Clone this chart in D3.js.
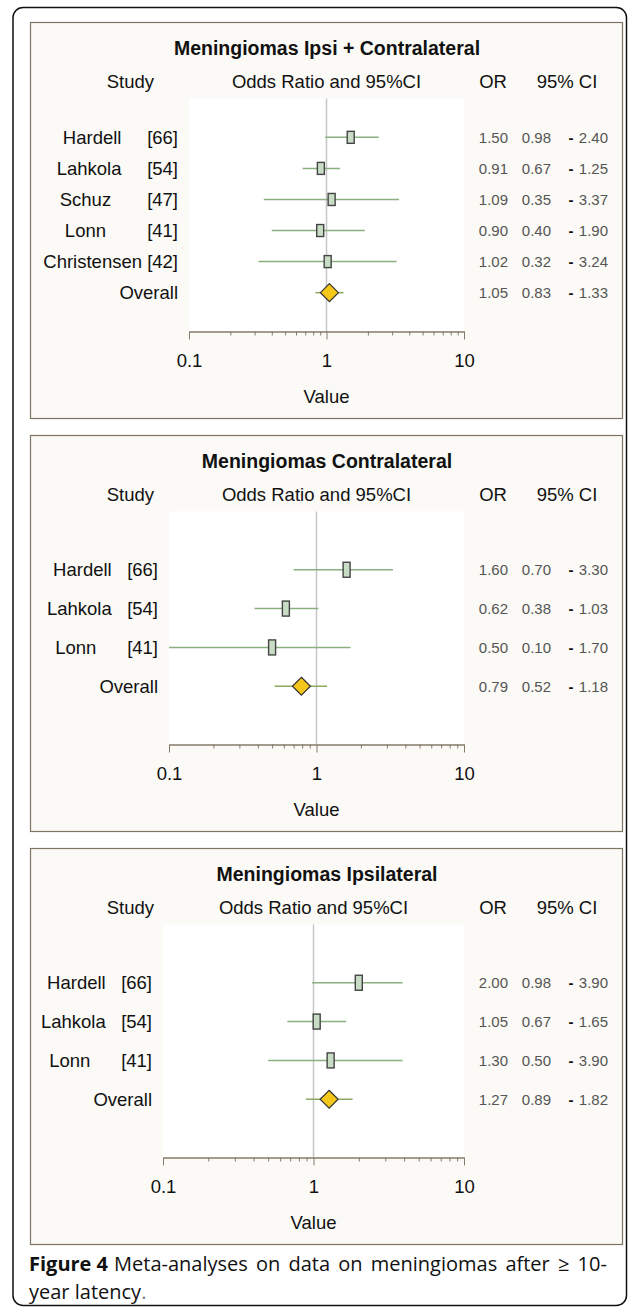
<!DOCTYPE html>
<html>
<head>
<meta charset="utf-8">
<script src="https://cdn.jsdelivr.net/npm/d3@7"></script>
<style>
body { margin: 0; background: #fff; }
svg text { font-family: "Liberation Sans", Arial, sans-serif; fill: #111; }
.num { fill: #555; font-size: 15px; }
</style>
</head>
<body>
<svg width="637" height="1313"></svg>
<script>
// Panel titles
const titles = ["Meningiomas Ipsi + Contralateral", "Meningiomas Contralateral", "Meningiomas Ipsilateral"];

// Panel 1 - ipsi + contralateral
const labels1 = ["Hardell     [66]", "Lahkola     [54]", "Schuz       [47]", "Lonn        [41]", "Christensen [42]", "Overall"];
const or1 = [1.50, 0.91, 1.09, 0.90, 1.02, 1.05];
const lo1 = [0.98, 0.67, 0.35, 0.40, 0.32, 0.83];
const hi1 = [2.40, 1.25, 3.37, 1.90, 3.24, 1.33];

// Panel 2 - contralateral
const labels2 = ["Hardell   [66]", "Lahkola   [54]", "Lonn      [41]", "Overall"];
const or2 = [1.60, 0.62, 0.50, 0.79];
const lo2 = [0.70, 0.38, 0.10, 0.52];
const hi2 = [3.30, 1.03, 1.70, 1.18];

// Panel 3 - ipsilateral
const labels3 = ["Hardell   [66]", "Lahkola   [54]", "Lonn      [41]", "Overall"];
const or3 = [2.00, 1.05, 1.30, 1.27];
const lo3 = [0.98, 0.67, 0.50, 0.89];
const hi3 = [3.90, 1.65, 3.90, 1.82];

// Axis
const xDomain = [0.1, 10];
const xTickLabels = ["0.1", "1", "10"];

const svg = d3.select("svg");
const fmt = d3.format(".2f");

// outer frame
svg.append("rect")
    .attr("x", 13).attr("y", 7.5)
    .attr("width", 613.5).attr("height", 1298)
    .attr("rx", 10)
    .attr("fill", "none")
    .attr("stroke", "#111")
    .attr("stroke-width", 1.5);

const panels = [
    { title: titles[0], labels: labels1, or: or1, lo: lo1, hi: hi1, top: 22.5, left: 189, pad: 1.25 },
    { title: titles[1], labels: labels2, or: or2, lo: lo2, hi: hi2, top: 435.5, left: 169, pad: 1.5 },
    { title: titles[2], labels: labels3, or: or3, lo: lo3, hi: hi3, top: 848.5, left: 163, pad: 1.5 }
];

const plotTop = 76, axisY = 309, plotRight = 464;
const fs = "18.5px";

panels.forEach(function(p) {
    const g = svg.append("g").attr("transform", "translate(0," + p.top + ")");

    const x = d3.scaleLog().domain(xDomain).range([p.left, plotRight]);
    const y = d3.scalePoint().domain(p.labels).range([plotTop, axisY]).padding(p.pad);

    const rows = p.labels.map(function(l, i) {
        return { label: l, or: p.or[i], lo: p.lo[i], hi: p.hi[i], overall: l === "Overall" };
    });

    // panel background
    g.append("rect")
        .attr("x", 30.5).attr("y", 0)
        .attr("width", 592).attr("height", 396)
        .attr("fill", "#fbfaf6")
        .attr("stroke", "#7d7463")
        .attr("stroke-width", 1.2);

    // plot area
    g.append("rect")
        .attr("x", x(xDomain[0])).attr("y", plotTop)
        .attr("width", x(xDomain[1]) - x(xDomain[0]))
        .attr("height", axisY - plotTop)
        .attr("fill", "#fff");

    // title + column headers
    g.append("text")
        .attr("x", 327).attr("y", 26).attr("dy", "0.35em")
        .attr("text-anchor", "middle")
        .style("font-size", "19.5px").style("font-weight", "bold")
        .text(p.title);

    const hy = 59;
    g.append("text").attr("x", 154).attr("y", hy).attr("dy", "0.35em")
        .attr("text-anchor", "end").style("font-size", fs).text("Study");
    g.append("text").attr("x", x(1)).attr("y", hy).attr("dy", "0.35em")
        .attr("text-anchor", "middle").style("font-size", fs).text("Odds Ratio and 95%CI");
    g.append("text").attr("x", 493).attr("y", hy).attr("dy", "0.35em")
        .attr("text-anchor", "middle").style("font-size", fs).text("OR");
    g.append("text").attr("x", 567).attr("y", hy).attr("dy", "0.35em")
        .attr("text-anchor", "middle").style("font-size", fs).text("95% CI");

    // reference line at 1
    g.append("line")
        .attr("x1", x(1)).attr("x2", x(1))
        .attr("y1", plotTop).attr("y2", axisY)
        .attr("stroke", "#c6c6c6")
        .attr("stroke-width", 1.5);

    // axis
    const ticks = x.ticks();
    const isMajor = d => Math.abs(Math.log10(d) - Math.round(Math.log10(d))) < 1e-9;
    const axis = g.append("g")
        .attr("transform", "translate(0," + axisY + ")")
        .call(d3.axisBottom(x).tickValues(ticks).tickSizeOuter(0)
            .tickFormat(function(d) {
                return isMajor(d) ? xTickLabels[Math.round(Math.log10(d)) + 1] : "";
            }));
    axis.select(".domain").attr("stroke", "#857b6a").attr("stroke-width", 1.3);
    axis.selectAll(".tick line")
        .attr("stroke", "#857b6a")
        .attr("y2", d => isMajor(d) ? 8 : 4);
    axis.selectAll(".tick text")
        .attr("y", 29).attr("dy", "0.35em")
        .style("font-size", fs).attr("fill", "#111");

    g.append("text")
        .attr("x", x(1)).attr("y", 374).attr("dy", "0.35em")
        .attr("text-anchor", "middle")
        .style("font-size", fs)
        .text("Value");

    // CI lines
    g.selectAll(".ci")
        .data(rows)
        .join("line")
        .attr("class", "ci")
        .attr("x1", d => x(d.lo)).attr("x2", d => x(d.hi))
        .attr("y1", d => y(d.label)).attr("y2", d => y(d.label))
        .attr("stroke", d => d.overall ? "#8fa862" : "#8ab07f")
        .attr("stroke-width", 1.5);

    // study markers
    const mh = Math.round(y.step() * 0.38);
    g.selectAll(".box")
        .data(rows.filter(d => !d.overall))
        .join("rect")
        .attr("class", "box")
        .attr("x", d => x(d.or) - 3.5)
        .attr("y", d => y(d.label) - mh / 2)
        .attr("width", 7).attr("height", mh)
        .attr("fill", "#c8dcc6")
        .attr("stroke", "#444")
        .attr("stroke-width", 1.4);

    // overall diamond
    g.selectAll(".diamond")
        .data(rows.filter(d => d.overall))
        .join("path")
        .attr("class", "diamond")
        .attr("d", d => {
            const cx = x(d.or), cy = y(d.label), r = 9;
            return "M" + cx + "," + (cy - r) + "L" + (cx + r) + "," + cy + "L" + cx + "," + (cy + r) + "L" + (cx - r) + "," + cy + "Z";
        })
        .attr("fill", "#f5c71a")
        .attr("stroke", "#333")
        .attr("stroke-width", 1.2);

    // study labels
    g.selectAll(".lab")
        .data(rows)
        .join("text")
        .attr("class", "lab")
        .attr("x", p.left - 11)
        .attr("y", d => y(d.label)).attr("dy", "0.35em")
        .attr("text-anchor", "end")
        .attr("xml:space", "preserve")
        .style("white-space", "pre")
        .style("font-size", fs)
        .text(d => d.label);

    // OR and CI columns
    g.selectAll(".orv")
        .data(rows)
        .join("text")
        .attr("class", "orv num")
        .attr("x", 508).attr("y", d => y(d.label)).attr("dy", "0.35em")
        .attr("text-anchor", "end")
        .text(d => fmt(d.or));
    g.selectAll(".lov")
        .data(rows)
        .join("text")
        .attr("class", "lov num")
        .attr("x", 551).attr("y", d => y(d.label)).attr("dy", "0.35em")
        .attr("text-anchor", "end")
        .text(d => fmt(d.lo));
    g.selectAll(".dash")
        .data(rows)
        .join("text")
        .attr("class", "dash")
        .attr("x", 571).attr("y", d => y(d.label)).attr("dy", "0.35em")
        .attr("text-anchor", "middle")
        .style("font-size", "15px").style("font-weight", "bold")
        .text("-");
    g.selectAll(".hiv")
        .data(rows)
        .join("text")
        .attr("class", "hiv num")
        .attr("x", 608).attr("y", d => y(d.label)).attr("dy", "0.35em")
        .attr("text-anchor", "end")
        .text(d => fmt(d.hi));
});

// caption - bold lead-in, then the rest placed after it
const capFont = "'Open Sans', sans-serif", capSize = "20px";
const lead = svg.append("text").attr("x", 29).attr("y", 1271)
    .style("font-family", capFont).style("font-size", capSize).style("font-weight", "bold")
    .attr("fill", "#222")
    .text("Figure 4");
const leadW = lead.node().getComputedTextLength();
svg.append("text").attr("x", 29 + leadW + 6).attr("y", 1271)
    .style("font-family", capFont).style("font-size", capSize)
    .style("word-spacing", "3px")
    .attr("fill", "#222")
    .text("Meta-analyses on data on meningiomas after \u2265 10-");
const l2 = svg.append("text").attr("x", 29).attr("y", 1299)
    .style("font-family", capFont).style("font-size", capSize)
    .attr("fill", "#222");
l2.append("tspan").text("year latency");
l2.append("tspan").attr("fill", "#777").text(".");
</script>
</body>
</html>
